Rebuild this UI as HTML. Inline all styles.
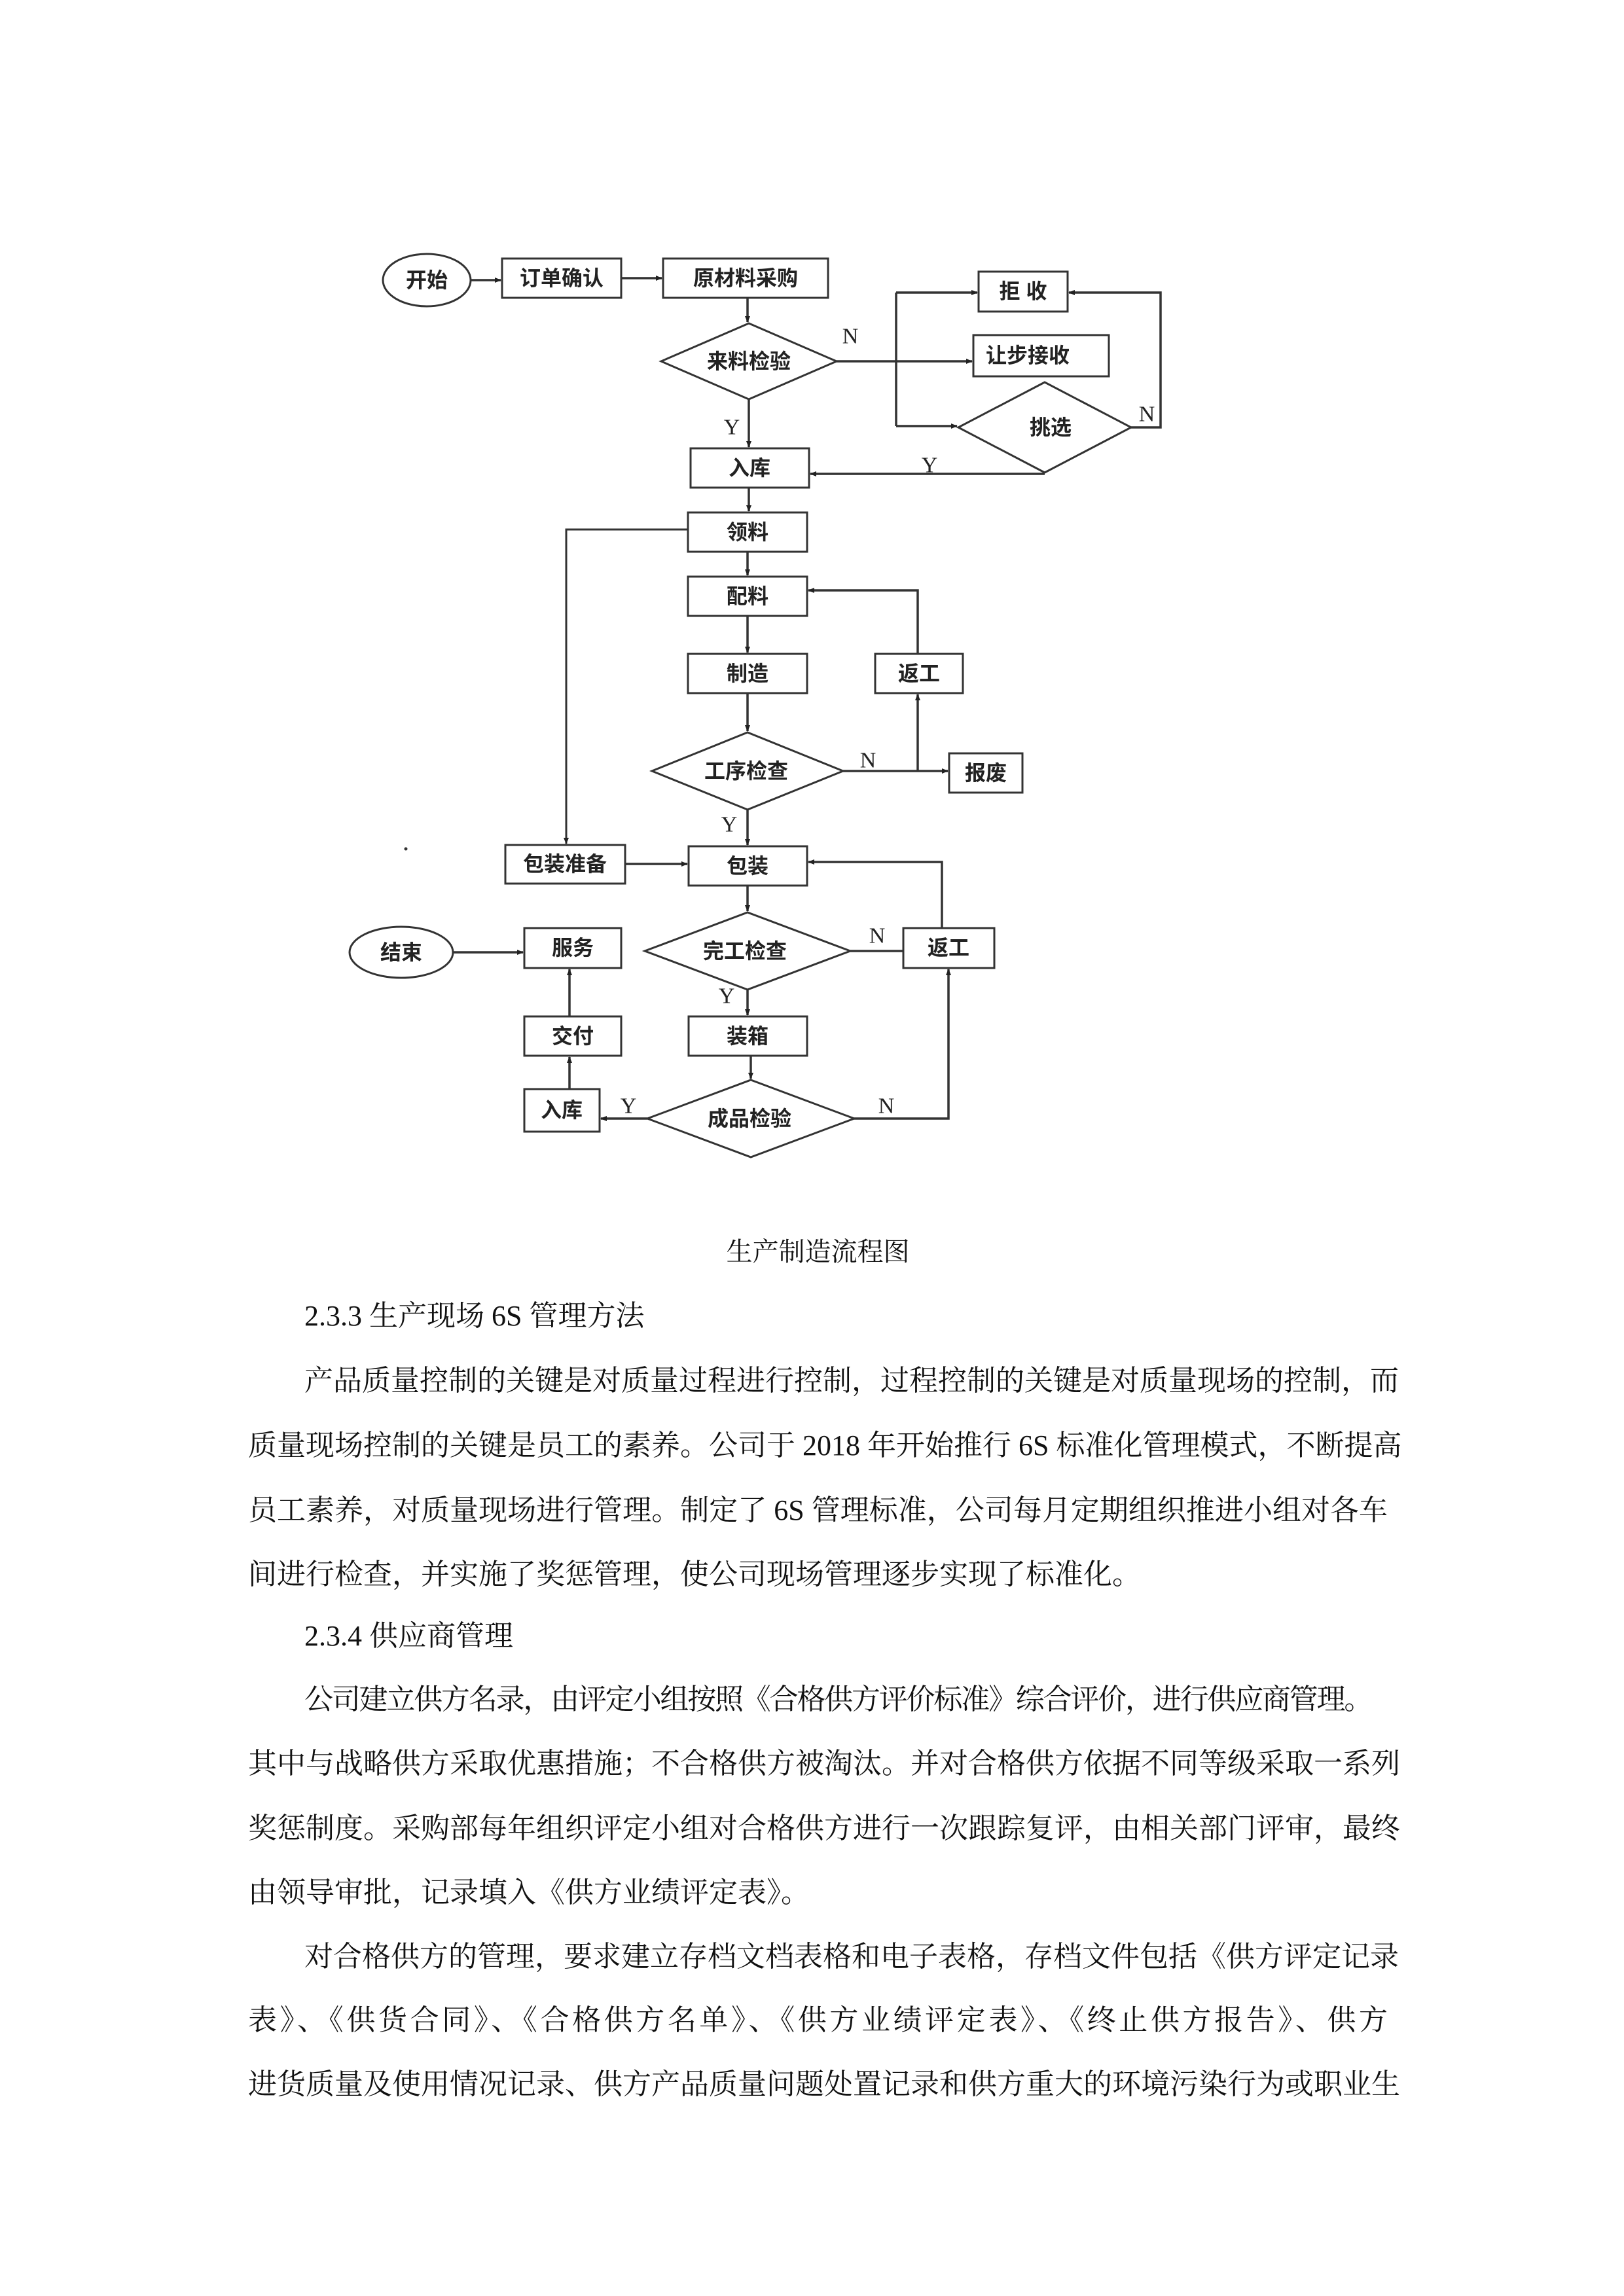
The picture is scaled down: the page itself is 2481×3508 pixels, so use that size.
<!DOCTYPE html>
<html><head><meta charset="utf-8">
<style>
html,body{margin:0;padding:0;background:#fff;}
body{width:2481px;height:3508px;position:relative;overflow:hidden;}
.t{position:absolute;left:379px;width:1741px;height:60px;line-height:60px;font-family:"Liberation Serif","Noto Serif CJK SC",serif;font-size:44px;color:#111;white-space:nowrap;}
.j{text-align:justify;text-align-last:justify;}
.i{left:465px;width:1655px;}
svg text{font-family:"Liberation Sans","Noto Sans CJK SC",sans-serif;font-weight:bold;font-size:32px;fill:#222;}
svg text.yn{font-family:"Liberation Serif",serif;font-weight:normal;font-size:34px;}
</style></head><body>
<svg width="2481" height="3508" style="position:absolute;left:0;top:0" xmlns="http://www.w3.org/2000/svg">
<defs>
<marker id="a" markerWidth="10" markerHeight="10" refX="9" refY="5" orient="auto" markerUnits="userSpaceOnUse" viewBox="0 0 10 10">
<path d="M0,1 L10,5 L0,9 z" fill="#222"/></marker>
</defs>
<g fill="#fff" stroke="#333" stroke-width="3">
<ellipse cx="652" cy="428" rx="67" ry="40"/>
<ellipse cx="613" cy="1455" rx="79" ry="39"/>
</g>
<g fill="#fff" stroke="#333" stroke-width="3">
<rect x="767" y="395" width="182" height="60"/>
<rect x="1013" y="395" width="252" height="60"/>
<rect x="1495" y="415" width="136" height="61"/>
<rect x="1487" y="512" width="207" height="63"/>
<rect x="1055" y="685" width="181" height="60"/>
<rect x="1051" y="783" width="182" height="60"/>
<rect x="1051" y="881" width="182" height="60"/>
<rect x="1051" y="999" width="182" height="60"/>
<rect x="1337" y="999" width="134" height="60"/>
<rect x="1450" y="1151" width="112" height="60"/>
<rect x="772" y="1291" width="183" height="59"/>
<rect x="1052" y="1293" width="181" height="60"/>
<rect x="1380" y="1418" width="139" height="61"/>
<rect x="801" y="1418" width="148" height="61"/>
<rect x="801" y="1553" width="148" height="60"/>
<rect x="801" y="1664" width="115" height="65"/>
<rect x="1052" y="1553" width="181" height="60"/>
<polygon points="1144,494 1278,552 1144,610 1010,552"/>
<polygon points="1596,584 1728,653 1596,722 1464,653"/>
<polygon points="1142,1119 1288,1178 1142,1237 996,1178"/>
<polygon points="1142,1394 1299,1453 1142,1512 985,1453"/>
<polygon points="1147,1650 1305,1709 1147,1768 989,1709"/>
</g>
<g fill="none" stroke="#333" stroke-width="3.5">
<line x1="720" y1="428" x2="765" y2="428" marker-end="url(#a)"/>
<line x1="949" y1="425" x2="1011" y2="425" marker-end="url(#a)"/>
<line x1="1142" y1="455" x2="1142" y2="492" marker-end="url(#a)"/>
<line x1="1144" y1="610" x2="1144" y2="683" marker-end="url(#a)"/>
<line x1="1278" y1="552" x2="1369" y2="552"/>
<line x1="1369" y1="447" x2="1369" y2="651"/>
<line x1="1369" y1="447" x2="1493" y2="447" marker-end="url(#a)"/>
<line x1="1369" y1="552" x2="1485" y2="552" marker-end="url(#a)"/>
<line x1="1369" y1="651" x2="1462" y2="651" marker-end="url(#a)"/>
<polyline points="1728,653 1773,653 1773,447 1633,447" marker-end="url(#a)"/>
<line x1="1596" y1="724" x2="1238" y2="724" marker-end="url(#a)"/>
<line x1="1144" y1="745" x2="1144" y2="781" marker-end="url(#a)"/>
<line x1="1142" y1="843" x2="1142" y2="879" marker-end="url(#a)"/>
<line x1="1142" y1="941" x2="1142" y2="997" marker-end="url(#a)"/>
<line x1="1142" y1="1059" x2="1142" y2="1117" marker-end="url(#a)"/>
<line x1="1288" y1="1178" x2="1448" y2="1178" marker-end="url(#a)"/>
<line x1="1402" y1="1178" x2="1402" y2="1061" marker-end="url(#a)"/>
<polyline points="1402,999 1402,902 1235,902" marker-end="url(#a)"/>
<polyline points="1051,809 865,809 865,1289" stroke-width="3" marker-end="url(#a)"/>
<line x1="1142" y1="1237" x2="1142" y2="1291" marker-end="url(#a)"/>
<line x1="955" y1="1320" x2="1050" y2="1320" marker-end="url(#a)"/>
<line x1="1142" y1="1353" x2="1142" y2="1392" marker-end="url(#a)"/>
<polyline points="1439,1418 1439,1317 1235,1317" marker-end="url(#a)"/>
<line x1="1380" y1="1453" x2="1299" y2="1453"/>
<line x1="1142" y1="1512" x2="1142" y2="1551" marker-end="url(#a)"/>
<line x1="1147" y1="1613" x2="1147" y2="1648" marker-end="url(#a)"/>
<line x1="989" y1="1709" x2="918" y2="1709" marker-end="url(#a)"/>
<polyline points="1305,1709 1449,1709 1449,1481" marker-end="url(#a)"/>
<line x1="870" y1="1664" x2="870" y2="1615" marker-end="url(#a)"/>
<line x1="870" y1="1553" x2="870" y2="1481" marker-end="url(#a)"/>
<line x1="693" y1="1455" x2="799" y2="1455" marker-end="url(#a)"/>
</g>
<g text-anchor="middle" dominant-baseline="central">
<text x="652" y="428">开始</text>
<text x="613" y="1455">结束</text>
<text x="858" y="425">订单确认</text>
<text x="1139" y="425">原材料采购</text>
<text x="1563" y="445">拒 收</text>
<text x="1570" y="543">让步接收</text>
<text x="1145" y="715" font-size="36">入库</text>
<text x="1142" y="813" font-size="36">领料</text>
<text x="1142" y="911" font-size="36">配料</text>
<text x="1142" y="1029" font-size="36">制造</text>
<text x="1404" y="1029" font-size="36">返工</text>
<text x="1506" y="1181" font-size="36">报废</text>
<text x="863" y="1320">包装准备</text>
<text x="1142" y="1323" font-size="36">包装</text>
<text x="1449" y="1448" font-size="36">返工</text>
<text x="875" y="1448" font-size="36">服务</text>
<text x="875" y="1583" font-size="36">交付</text>
<text x="858" y="1696" font-size="36">入库</text>
<text x="1142" y="1583" font-size="36">装箱</text>
<text x="1144" y="552">来料检验</text>
<text x="1605" y="653">挑选</text>
<text x="1140" y="1178">工序检查</text>
<text x="1138" y="1453">完工检查</text>
<text x="1145" y="1709">成品检验</text>
<text class="yn" x="1299" y="514">N</text>
<text class="yn" x="1752" y="633">N</text>
<text class="yn" x="1118" y="653">Y</text>
<text class="yn" x="1420" y="711">Y</text>
<text class="yn" x="1326" y="1162">N</text>
<text class="yn" x="1114" y="1260">Y</text>
<text class="yn" x="1340" y="1430">N</text>
<text class="yn" x="1110" y="1522">Y</text>
<text class="yn" x="960" y="1690">Y</text>
<text class="yn" x="1354" y="1690">N</text>
</g>
<circle cx="620" cy="1297" r="2.5" fill="#333"/>
</svg>

<div class="t" style="top:1883px;text-align:center;font-size:40px;">生产制造流程图</div>
<div class="t i" style="top:1981px;">2.3.3 生产现场 6S 管理方法</div>
<div class="t i j" style="top:2080px;">产品质量控制的关键是对质量过程进行控制，过程控制的关键是对质量现场的控制，而</div>
<div class="t j" style="top:2179px;">质量现场控制的关键是员工的素养。公司于 2018 年开始推行 6S 标准化管理模式，不断提高</div>
<div class="t j" style="top:2278px;">员工素养，对质量现场进行管理。制定了 6S 管理标准，公司每月定期组织推进小组对各车</div>
<div class="t" style="top:2376px;">间进行检查，并实施了奖惩管理，使公司现场管理逐步实现了标准化。</div>
<div class="t i" style="top:2470px;">2.3.4 供应商管理</div>
<div class="t i" style="top:2567px;letter-spacing:-2.2px;">公司建立供方名录，由评定小组按照《合格供方评价标准》综合评价，进行供应商管理。</div>
<div class="t j" style="top:2665px;">其中与战略供方采取优惠措施；不合格供方被淘汰。并对合格供方依据不同等级采取一系列</div>
<div class="t j" style="top:2764px;">奖惩制度。采购部每年组织评定小组对合格供方进行一次跟踪复评，由相关部门评审，最终</div>
<div class="t" style="top:2862px;">由领导审批，记录填入《供方业绩评定表》。</div>
<div class="t i j" style="top:2960px;">对合格供方的管理，要求建立存档文档表格和电子表格，存档文件包括《供方评定记录</div>
<div class="t j" style="top:3057px;">表》、《供货合同》、《合格供方名单》、《供方业绩评定表》、《终止供方报告》、供方</div>
<div class="t j" style="top:3155px;">进货质量及使用情况记录、供方产品质量问题处置记录和供方重大的环境污染行为或职业生</div>
</body></html>
